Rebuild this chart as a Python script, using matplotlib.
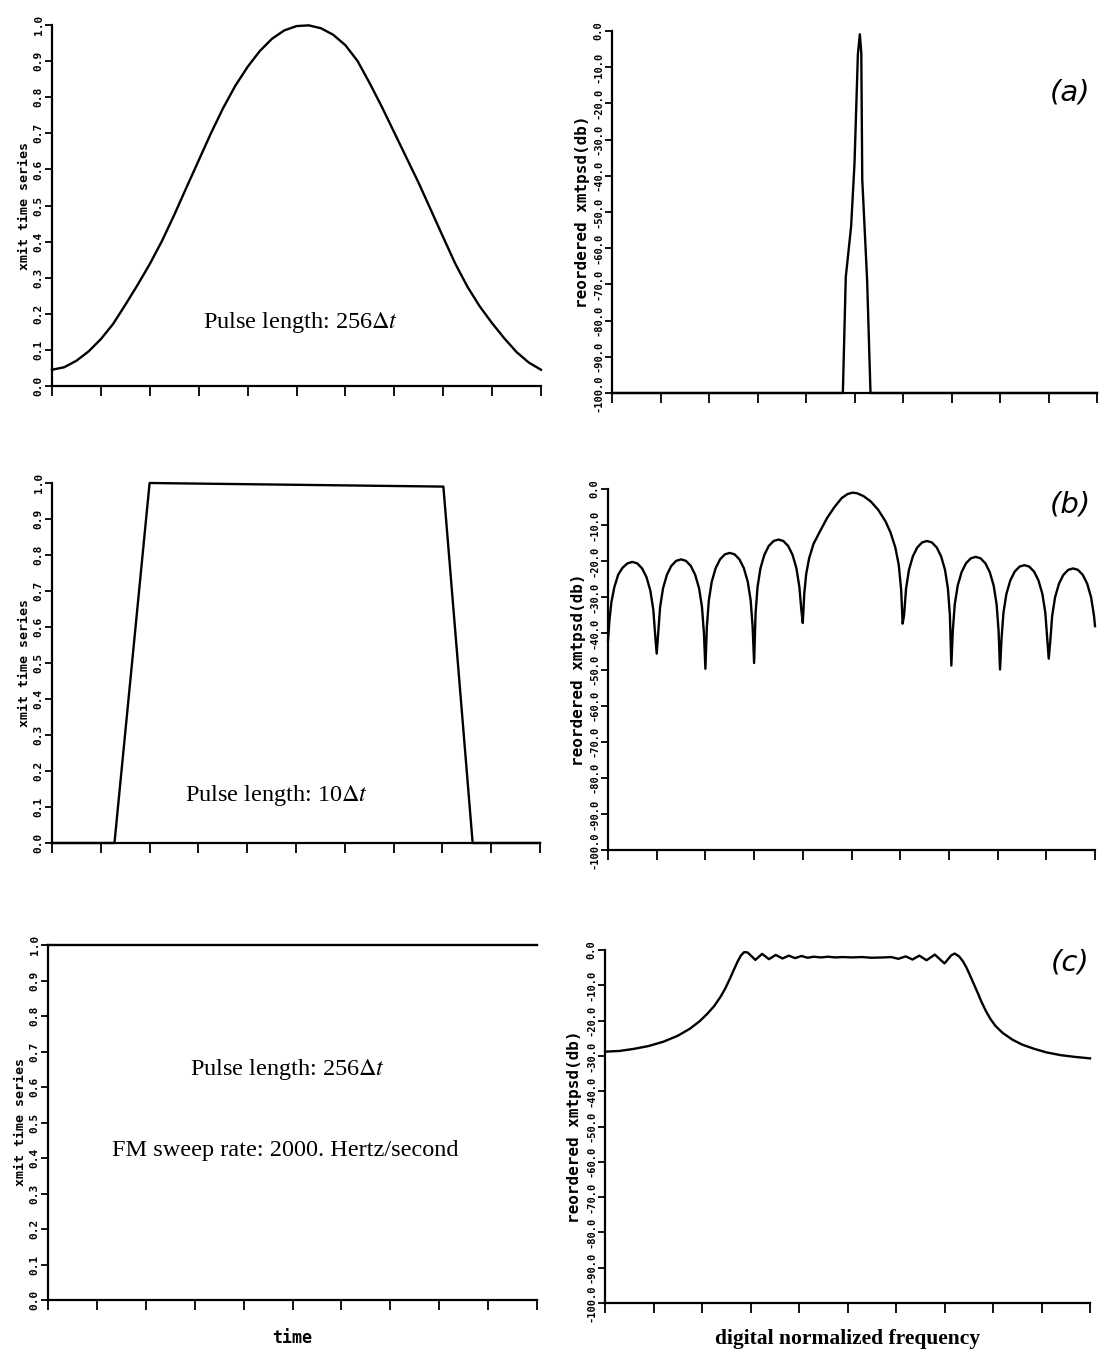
import numpy as np
import matplotlib
matplotlib.use('Agg')
import matplotlib.pyplot as plt

plt.rcParams['mathtext.fontset'] = 'stix'

# --- data (x in tick units 0..10) ---

# (a) raised-cosine pulse and its spectrum
a_time_x = [0.0, 0.25, 0.5, 0.75, 1.0, 1.25, 1.5, 1.75, 2.0, 2.25, 2.5, 2.75, 3.0, 3.25, 3.5,
            3.75, 4.0, 4.25, 4.5, 4.75, 5.0, 5.25, 5.5, 5.75, 6.0, 6.25, 6.5, 6.75, 7.0,
            7.25, 7.5, 7.75, 8.0, 8.25, 8.5, 8.75, 9.0, 9.25, 9.5, 9.75, 10.0]
a_time_y = [0.045, 0.052, 0.070, 0.096, 0.130, 0.172, 0.225, 0.280, 0.338, 0.402, 0.474, 0.550,
            0.625, 0.700, 0.770, 0.832, 0.884, 0.928, 0.962, 0.985, 0.997, 0.999, 0.991, 0.973,
            0.944, 0.900, 0.838, 0.772, 0.702, 0.632, 0.562, 0.487, 0.412, 0.338, 0.274, 0.220,
            0.174, 0.132, 0.094, 0.065, 0.045]

a_psd_x = [0.0, 4.76, 4.82, 4.93, 5.0, 5.07, 5.11, 5.14, 5.16, 5.26, 5.33, 10.0]
a_psd_db = [-100, -100, -68, -54, -36.6, -6.4, -0.9, -6.0, -41, -68.7, -100, -100]

# (b) short trapezoid pulse and its spectrum
b_time_x = [0.0, 1.28, 2.0, 8.02, 8.62, 10.0]
b_time_y = [0.0, 0.0, 1.0, 0.99, 0.0, 0.0]

b_psd_x = [0.0, 0.03, 0.07, 0.13, 0.21, 0.3, 0.4, 0.5, 0.6, 0.7, 0.79, 0.87, 0.93, 0.97, 1.0,
           1.03, 1.07, 1.13, 1.21, 1.3, 1.4, 1.5, 1.6, 1.7, 1.79, 1.87, 1.93, 1.97, 2.0,
           2.03, 2.07, 2.13, 2.21, 2.3, 2.4, 2.5, 2.6, 2.7, 2.79, 2.87, 2.93, 2.97, 3.0,
           3.03, 3.07, 3.13, 3.21, 3.3, 3.4, 3.5, 3.6, 3.7, 3.79, 3.87, 3.93, 3.97, 4.0,
           4.03, 4.07, 4.13, 4.22, 4.35, 4.5, 4.65, 4.8, 4.92, 5.02, 5.12, 5.25, 5.4, 5.55,
           5.7, 5.8, 5.9, 5.97, 6.02, 6.05,
           6.08, 6.12, 6.18, 6.26, 6.35, 6.45, 6.55, 6.65, 6.75, 6.84, 6.92, 6.98, 7.02, 7.05,
           7.08, 7.12, 7.18, 7.26, 7.35, 7.45, 7.55, 7.65, 7.75, 7.84, 7.92, 7.98, 8.02, 8.05,
           8.08, 8.12, 8.18, 8.26, 8.35, 8.45, 8.55, 8.65, 8.75, 8.84, 8.92, 8.98, 9.02, 9.05,
           9.08, 9.12, 9.18, 9.26, 9.35, 9.45, 9.55, 9.65, 9.75, 9.84, 9.92, 9.98, 10.0]
b_psd_db = [-42, -36.3, -31.3, -27.2, -23.7, -21.8, -20.6, -20.2, -20.6, -22.0, -24.4, -28.2, -33.4, -40.7, -45.6,
            -40.0, -32.7, -27.5, -23.75, -21.3, -19.9, -19.5, -19.9, -21.3, -23.75, -27.5, -32.7, -40.0, -49.8,
            -38.2, -30.9, -25.7, -21.95, -19.5, -18.1, -17.7, -18.1, -19.5, -21.95, -25.7, -30.9, -38.2, -48.2,
            -34.5, -27.2, -22.0, -18.25, -15.8, -14.4, -14.0, -14.4, -15.8, -18.25, -22.0, -27.2, -33.5, -37.1,
            -29, -23.5, -19.2, -15.2, -11.8, -8.0, -5.0, -2.5, -1.4, -1.0, -1.2, -2.0, -3.5, -5.8,
            -9.0, -12.0, -16.2, -21, -28, -37.3,
            -34.9, -27.6, -22.4, -18.65, -16.2, -14.8, -14.4, -14.8, -16.2, -18.65, -22.4, -27.6, -34.9, -48.9,
            -39.3, -32.0, -26.8, -23.05, -20.6, -19.2, -18.8, -19.2, -20.6, -23.05, -26.8, -32.0, -39.3, -50,
            -41.6, -34.3, -29.1, -25.35, -22.9, -21.5, -21.1, -21.5, -22.9, -25.35, -29.1, -34.3, -41.6, -47,
            -42.5, -35.2, -30.0, -26.25, -23.8, -22.4, -22.0, -22.4, -23.8, -26.25, -30.0, -35.2, -38]

# (c) FM sweep pulse and its spectrum
c_time_x = [0.0, 10.0]
c_time_y = [1.0, 1.0]

c_psd_x = [0.0, 0.3, 0.6, 0.9, 1.2, 1.5, 1.75, 1.95, 2.1, 2.25, 2.38, 2.48, 2.58, 2.66, 2.73,
           2.8, 2.87, 2.94, 3.01, 3.10, 3.24, 3.38, 3.52, 3.66, 3.79, 3.92, 4.05, 4.18, 4.3,
           4.45, 4.6, 4.75, 4.9, 5.1, 5.3, 5.5, 5.75, 5.9, 6.05, 6.2, 6.34, 6.48, 6.63, 6.8,
           7.0, 7.14, 7.21, 7.3, 7.38, 7.45, 7.52, 7.6, 7.68, 7.76, 7.85, 7.95, 8.05, 8.2,
           8.4, 8.6, 8.85, 9.1, 9.4, 9.7, 10.0]
c_psd_db = [-28.8, -28.6, -28.0, -27.2, -26.0, -24.3, -22.3, -20.2, -18.2, -15.9, -13.3, -10.9, -8.0, -5.5, -3.4,
            -1.6, -0.6, -0.7, -1.6, -2.8, -1.1, -2.6, -1.4, -2.4, -1.6, -2.3, -1.7, -2.2, -1.9,
            -2.1, -1.9, -2.1, -2.0, -2.1, -2.0, -2.2, -2.1, -2.0, -2.5, -1.8, -2.7, -1.6, -2.9, -1.3,
            -3.8, -1.5, -1.0, -1.8, -3.2, -4.9, -7.0, -9.5, -12.0, -14.6, -17.2, -19.6, -21.5, -23.5,
            -25.4, -26.8, -28.0, -29.0, -29.8, -30.3, -30.7]

time_ticks = ['0.0', '0.1', '0.2', '0.3', '0.4', '0.5', '0.6', '0.7', '0.8', '0.9', '1.0']
psd_ticks = ['-100.0', '-90.0', '-80.0', '-70.0', '-60.0', '-50.0', '-40.0',
             '-30.0', '-20.0', '-10.0', '0.0']

W, H = 1108, 1351
fig = plt.figure(figsize=(W / 100, H / 100), dpi=100)


def rect(l, t, r, b):
    return [l / W, 1 - b / H, (r - l) / W, (b - t) / H]


def make_axes(box, psd):
    ax = fig.add_axes(rect(*box))
    ax.set_xlim(0, 10)
    for s in ['top', 'right']:
        ax.spines[s].set_visible(False)
    for s in ['left', 'bottom']:
        ax.spines[s].set_linewidth(1.6)
    ax.set_xticks(np.arange(0, 11))
    ax.tick_params(axis='x', direction='out', length=7, width=1.3, labelbottom=False)
    ax.tick_params(axis='y', direction='out', length=5, width=1.3, pad=1)
    if psd:
        ax.set_ylim(-100, 0)
        ax.set_yticks(np.arange(-100, 1, 10))
        ax.set_yticklabels(psd_ticks, rotation=90, va='center', family='DejaVu Sans Mono',
                           fontweight='bold', fontsize=7.5)
        ax.set_ylabel('reordered xmtpsd(db)', family='DejaVu Sans Mono', fontweight='bold',
                      fontsize=11.5, labelpad=3)
    else:
        ax.set_ylim(0, 1)
        ax.set_yticks(np.linspace(0, 1, 11))
        ax.set_yticklabels(time_ticks, rotation=90, va='center', family='DejaVu Sans Mono',
                           fontweight='bold', fontsize=8)
        ax.set_ylabel('xmit time series', family='DejaVu Sans Mono', fontweight='bold',
                      fontsize=9.5, labelpad=2)
    return ax


line_kw = dict(color='black', lw=1.7, clip_on=False)
serif = dict(family='Liberation Serif', fontsize=17.5, ha='center', va='center')

# row (a)
ax = make_axes((52, 25, 541, 386), False)
ax.plot(a_time_x, a_time_y, **line_kw)
ax.text(5.09, 0.175, r'Pulse length: 256$\Delta t$', **serif)

ax = make_axes((612, 31, 1097, 393), True)
ax.plot(a_psd_x, a_psd_db, **line_kw)

# row (b)
ax = make_axes((52, 483, 540, 843), False)
ax.plot(b_time_x, b_time_y, **line_kw)
ax.text(4.61, 0.133, r'Pulse length: 10$\Delta t$', **serif)

ax = make_axes((608, 489, 1095, 850), True)
ax.plot(b_psd_x, b_psd_db, **line_kw)

# row (c)
ax = make_axes((48, 945, 537, 1300), False)
ax.plot(c_time_x, c_time_y, **line_kw)
ax.text(4.9, 0.648, r'Pulse length: 256$\Delta t$', **serif)
ax.text(4.85, 0.42, 'FM sweep rate: 2000. Hertz/second', **serif)
ax.set_xlabel('time', family='DejaVu Sans Mono', fontweight='bold', fontsize=12, labelpad=14)

ax = make_axes((605, 950, 1090, 1303), True)
ax.plot(c_psd_x, c_psd_db, **line_kw)
ax.set_xlabel('digital normalized frequency', family='Liberation Serif', fontweight='bold',
              fontsize=15.5, labelpad=12)

# panel letters
for lab, yy in [('(a)', 92), ('(b)', 505), ('(c)', 963)]:
    fig.text(1070 / W, 1 - yy / H, lab, fontsize=21, style='italic', family='DejaVu Sans',
             ha='center', va='center')

fig.savefig('out.png', dpi=100)
